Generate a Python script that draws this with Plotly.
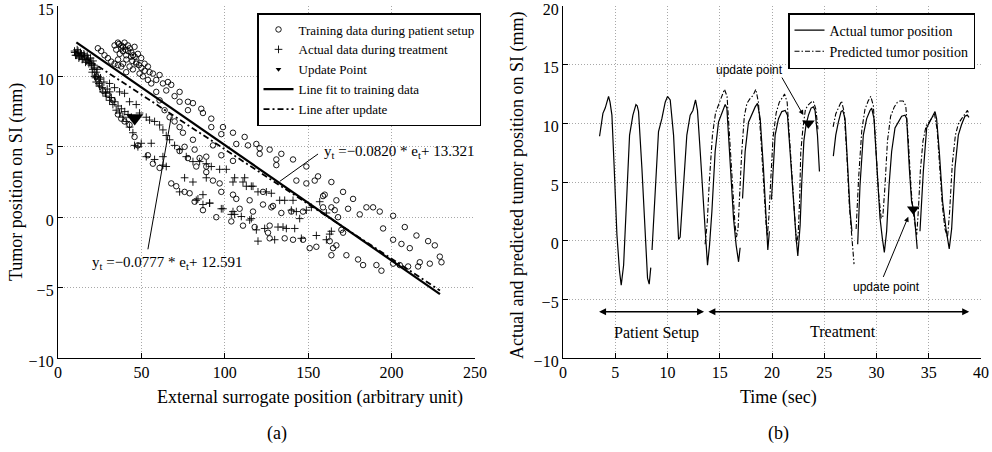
import plotly.graph_objects as go

# ---------------- (a) scatter data ----------------
train_x = [23.9, 25.9, 27.9, 29.9, 31.9, 33.9, 35.9, 37.9, 40.9,
           33.9, 35.9, 37.9, 39.9, 41.9, 45.9, 34.9, 38.9, 40.9, 43.9, 47.9, 49.9, 51.9, 53.9, 54.9, 56.9,
           60.9, 58.9, 62.9, 65.9, 67.9, 64.9, 69.9, 72.9, 72.9, 77.9, 80.9, 77.9, 85.9, 86.9, 91.9, 91.9, 98.9,
           46.9, 42.9, 44.9, 48.9, 50.9, 53.9, 55.9, 58.9, 60.9, 63.9, 66.9, 69.9, 72.9, 74.9, 75.9, 72.9,
           77.9, 81.9, 82.9, 80.9, 84.9,
           22.9, 24.9, 26.9, 29.9, 32.9,
           35.9, 37.9, 39.9, 42.9, 45.9, 47.9, 53.9, 56.9, 60.9, 67.9, 70.9, 75.9, 78.9, 81.9,
           36.5, 38.0, 39.0, 40.5, 42.0, 43.0, 44.0, 45.0, 46.0, 37.0, 41.0, 44.5, 47.0, 48.5, 50.0, 52.0,
           36.0, 39.0,
           97.9, 104.9, 111.9, 92.9, 106.9, 113.9, 118.9, 120.9, 120.9, 126.9, 133.9, 130.9, 130.9, 140.9,
           104.9, 97.9, 88.9, 88.9, 88.9, 92.9, 96.9, 97.9, 104.9, 106.9, 114.9, 122.9, 128.9, 133.9, 139.9,
           146.9, 148.9, 142.9, 148.9, 153.9, 155.9, 163.9, 170.9, 176.9, 184.9, 192.9, 200.9, 207.9, 214.9,
           221.9, 225.9, 228.9, 229.9, 222.9, 216.9, 215.9, 209.9, 204.9, 200.9, 193.9, 190.9, 182.9, 179.9,
           172.9, 163.9, 154.9, 150.9, 146.9, 140.9, 135.9, 126.9, 125.9, 126.9, 117.9, 110.9, 103.9, 94.9,
           86.9, 108.9, 116.9, 122.9, 127.9, 158.9, 163.9, 165.9, 167.9, 169.9, 170.9, 166.9, 164.9, 162.9,
           158.9, 159.9, 166.9, 173.9, 180.9, 188.9, 194.9, 200.9, 205.9, 210.9]
train_y = [12.0, 11.8, 11.5, 11.3, 11.05, 10.9, 10.8, 10.7, 10.3,
           12.2, 12.4, 12.2, 12.4, 12.2, 12.1, 11.9, 11.8, 11.5, 11.4, 11.6, 11.3, 10.9, 10.7, 10.3, 10.2,
           10.1, 9.75, 9.5, 9.6, 9.4, 9.0, 8.6, 8.9, 8.2, 8.2, 8.1, 7.6, 7.7, 7.4, 7.0, 6.4, 6.4,
           10.9, 10.7, 10.5, 10.2, 10.0, 9.75, 9.5, 8.9, 8.3, 7.6, 7.1, 6.8, 6.4, 6.0, 5.0, 4.7,
           4.2, 4.8, 3.6, 5.5, 4.2,
           10.0, 9.5, 9.0, 8.7, 8.3,
           7.3, 7.0, 6.8, 6.55, 5.7, 5.1, 4.4, 3.8, 3.5, 2.4, 2.2, 1.8, 1.7, 1.1,
           12.3, 12.0, 12.1, 11.9, 11.8, 12.0, 11.7, 11.5, 11.4, 11.6, 11.2, 11.1, 11.0, 10.8, 10.6, 10.4,
           11.2, 10.9,
           5.9, 6.0, 5.7, 5.1, 5.2, 5.1, 5.2, 4.9, 4.5, 4.8, 4.5, 4.1, 3.7, 4.1,
           4.0, 4.4, 4.3, 3.6, 3.2, 2.6, 2.4, 1.8, 1.6, 1.3, 1.2, 0.9, 0.8, 0.3, 0.4,
           0.4, 3.6, 2.6, 2.4, 2.6, 2.9, 2.5, 1.8, 1.3, 0.7, 0.4, 0.1, -0.7, -1.3,
           -1.7, -2.0, -2.8, -3.2, -3.3, -3.2, -3.5, -3.5, -3.4, -3.3, -3.8, -3.4, -3.4, -3.0,
           -2.7, -2.7, -2.1, -2.2, -1.6, -1.6, -1.5, -1.5, -1.1, -0.6, -0.7, -0.6, -0.3, 0.0,
           0.5, 0.6, 0.4, 1.8, 0.7, 0.7, 0.7, 0.5, 0.0, -0.9, -1.1, -2.0, -2.2, -1.7,
           1.5, 1.6, 1.2, 0.6, 0.2, 0.7, -0.8, -1.6, -1.9, -2.2]

treat_x = [10.0, 11.0, 12.0, 13.0, 14.0, 15.0, 16.0, 17.0, 18.0, 19.0, 20.0, 21.0, 22.0, 23.0, 24.0, 25.0,
           9.9, 11.9, 13.9, 15.9, 17.9, 19.9, 20.9, 21.9, 22.9, 24.9, 26.9, 28.9, 30.9, 32.9, 34.9, 36.9,
           38.9, 40.9, 42.9, 44.9, 45.9, 47.9, 30.9, 33.9, 36.9, 39.9, 42.9, 46.9, 48.9, 52.9, 54.9, 57.9,
           60.9, 62.9, 64.9, 66.9, 69.9, 72.9, 76.9, 80.9, 84.9, 88.9, 91.9, 96.9, 100.9, 55.9, 49.9, 52.9,
           57.9, 62.9, 62.9, 64.9, 75.9, 80.9, 72.9, 82.9, 86.9, 90.9, 98.9, 104.9, 105.9, 109.9, 115.9,
           118.9, 104.9, 111.9, 112.9, 116.9,
           10.5, 11.5, 12.5, 13.5, 14.5, 15.5, 16.5, 17.5, 18.5, 19.5, 20.5, 21.5, 22.5, 23.5, 24.5, 25.5,
           26.5, 27.5, 28.5, 29.5, 31.0, 32.0, 34.0, 36.0, 38.0, 40.0, 42.0, 44.0,
           88.9, 90.9, 97.9, 103.9, 105.9, 110.9, 115.9, 119.9, 124.9, 127.9, 132.9, 135.9, 140.9, 139.9,
           142.9, 144.9, 148.9, 151.9, 156.9, 160.9, 114.9, 119.9, 129.9, 131.9, 136.9, 141.9, 145.9,
           154.9, 160.9, 162.9, 163.9, 83.9, 86.9, 123.9, 134.9]
treat_y = [11.7, 11.5, 11.8, 11.4, 11.6, 11.3, 11.5, 11.1, 11.3, 11.0, 10.8, 11.1, 10.6, 10.3, 10.0, 9.8,
           11.8, 11.6, 11.5, 11.4, 11.2, 10.9, 10.5, 10.0, 9.6, 9.3, 8.9, 8.6, 8.3, 8.0, 7.6, 7.4,
           7.1, 6.8, 6.4, 6.0, 5.1, 5.0, 9.5, 9.2, 8.9, 8.8, 8.2, 8.0, 7.4, 7.1, 6.9, 6.8,
           6.55, 6.2, 5.8, 5.5, 5.1, 4.8, 4.3, 3.95, 3.95, 3.8, 3.6, 3.4, 3.4, 5.25, 5.25, 4.3,
           4.1, 4.3, 3.7, 3.6, 2.8, 2.5, 1.8, 1.2, 1.6, 1.0, 0.6, 0.4, 0.2, 0.05, -0.1,
           -0.9, 2.5, 2.8, 2.2, 2.2,
           11.5, 11.9, 11.3, 11.7, 11.2, 11.6, 11.0, 11.5, 10.9, 11.3, 10.3, 10.8, 9.9, 10.5, 9.5, 9.9,
           9.2, 9.6, 8.8, 9.1, 8.9, 8.5, 8.2, 7.9, 7.7, 7.5, 7.3, 7.1,
           2.8, 1.0, 0.6, 0.2, 2.8, 2.5, 2.2, 1.8, 1.8, 1.7, 1.2, 1.2, 1.2, 0.5,
           0.4, -0.1, 0.5, 0.7, 1.1, 0.3, -0.2, -1.7, -1.6, -0.7, -0.8, -0.8, -1.5,
           -1.3, -1.6, -1.2, -1.0, 1.3, 0.9, -0.8, -0.7]

update_a_x = [46.0]
update_a_y = [7.05]

fit_x = [11, 229]
fit_y = [12.419, -5.457]        # y = -0.0820 e + 13.321
upd_x = [10, 229]
upd_y = [11.814, -5.202]        # y = -0.0777 e + 12.591

# ---------------- (b) time series ----------------
act_t = [3.5, 3.82, 4.04, 4.2, 4.36, 4.5, 4.68, 4.9, 5.16, 5.41, 5.57, 5.8, 6.12, 6.37, 6.69, 6.98, 7.1,
         7.23, 7.55, 7.87, 8.09, 8.25, 8.4, None, 8.52, 8.82, 9.14, 9.46, 9.78, 10.0, 10.26, 10.58,
         10.83, 11.06, 11.21, 11.53, 11.85, 12.17, 12.43, 12.68, 12.87, 13.13, 13.38, 13.6, 13.83,
         14.02, 14.25, 14.56, 14.88, 15.2, 15.52, 15.68, 16.0, 16.32, 16.57, 16.8, 16.95, None,
         17.18, 17.43, 17.75, 18.07, 18.39, 18.61, 18.87, 19.18, 19.44, 19.6, 19.75, None, 19.95,
         20.3, 20.62, 20.94, 21.26, 21.48, 21.73, 22.05, 22.31, 22.47, 22.69, 22.85, 23.05, 23.26,
         23.49, 23.74, 23.96, 24.12, 24.35, 24.54, None, 25.87, 26.1, 26.35, 26.61, 26.77, 26.99,
         27.25, 27.47, 27.65, None, 28.2, 28.42, 28.74, 29.06, 29.38, 29.54, 29.76, 30.02, 30.34,
         30.56, 30.75, 30.97, 31.2, 31.45, 31.77, 32.09, 32.41, 32.73, 32.89, 33.14, 33.36, 33.59,
         33.78, 33.9, None, 34.16, 34.48, 34.8, 35.12, 35.37, 35.6, 35.75, 36.01, 36.33, 36.65,
         36.96, 37.19, 37.51, 37.83, 38.14, 38.46, 38.69, 38.85]
act_v = [8.9, 10.85, 11.3, 11.8, 12.3, 11.8, 10.7, 6.2, 0.5, -2.6, -3.8, -2.1, 4.7, 9.0, 10.7, 11.6, 11.5,
         11.0, 6.2, 0.5, -3.2, -3.7, -2.3, None, -0.8, 4.7, 9.3, 10.4, 11.8, 12.3, 12.0, 9.0,
         4.7, 0.1, 0.3, 4.7, 9.0, 10.7, 11.1, 12.0, 11.1, 7.6, 3.5, 1.0, -2.1,
         -0.4, 2.5, 7.6, 10.1, 10.8, 11.6, 11.3, 6.2, 1.9, -0.4, -1.8, -0.6, None,
         3.6, 7.6, 10.1, 10.8, 11.4, 11.7, 10.4, 6.2, 1.9, -0.8, 0.8, None, 3.5,
         9.0, 10.4, 11.0, 11.1, 10.7, 7.6, 3.3, 0.2, -1.3, 1.3, 5.0, 8.5, 9.9,
         10.7, 11.3, 11.4, 11.1, 9.0, 5.9, None, 7.2, 9.0, 10.1, 11.0, 11.1, 10.4,
         6.2, 2.5, 0.8, None, -0.3, 4.7, 9.0, 10.4, 11.1, 11.3, 10.4, 6.2, 1.9,
         0.2, -1.0, 0.8, 4.7, 7.6, 9.6, 10.1, 10.6, 10.7, 10.4, 6.2, 3.3, 2.5,
         0.8, -0.7, None, 0.8, 5.9, 9.6, 10.1, 10.6, 11.0, 10.4, 7.6, 3.3, 1.0,
         -0.7, 1.0, 6.2, 9.0, 9.9, 10.6, 10.7, 10.5]

pred_t = [13.6, 13.8, 14.0, 14.3, 14.6, 14.9, 15.2, 15.45, 15.7, 15.95, 16.2, 16.45, 16.6, 16.75, 16.9,
          17.1, 17.35, 17.6, 17.9, 18.2, 18.45, 18.7, 18.95, 19.2, 19.45, 19.55, 19.7, 19.9, 20.1,
          20.4, 20.7, 21.0, 21.2, 21.45, 21.7, 21.95, 22.2, 22.35, 22.5, 22.65, 22.75, 22.95, 23.2,
          23.5, 23.75, 23.95, 24.2, 24.4, None, 25.85, 26.1, 26.4, 26.65, 26.9, 27.15, 27.4, 27.65,
          27.85, None, 28.05, 28.3, 28.6, 28.9, 29.2, 29.45, 29.7, 29.95, 30.2, 30.45, 30.6, 30.8,
          31.05, 31.35, 31.7, 32.0, 32.25, 32.55, 32.8, 33.05, 33.3, 33.5, 33.7, 33.85, 34.0, 34.2,
          34.45, 34.75, 35.1, 35.35, 35.55, 35.8, 36.05, 36.3, 36.55, 36.8, 37.0, 37.25, 37.55,
          37.85, 38.15, 38.45, 38.7, 38.85]
pred_v = [-0.3, 1.5, 5.0, 9.0, 10.9, 11.6, 12.2, 12.9, 12.3, 8.5, 4.5, 1.5, 0.3, 1.0, 3.8,
          7.5, 10.6, 11.7, 12.1, 12.4, 12.9, 11.8, 8.5, 4.5, 1.2, 0.4, 2.0, 5.5, 8.8,
          10.9, 11.8, 12.2, 12.5, 11.8, 8.5, 4.5, 1.0, -0.3, 0.5, 3.6, 7.5, 9.5, 11.2,
          11.6, 11.8, 11.9, 11.2, 9.5, None, 9.7, 10.8, 11.4, 11.9, 11.0, 7.5, 3.0, 0.0,
          -2.0, None, 1.0, 5.5, 9.5, 11.2, 11.9, 12.3, 11.5, 8.0, 4.0, 1.9, 2.0, 4.5,
          8.5, 10.6, 11.4, 11.8, 11.9, 11.9, 11.5, 8.5, 4.5, 2.5, 1.5, 0.5, 2.5, 6.0,
          8.5, 9.8, 10.2, 10.5, 10.8, 9.5, 6.5, 3.0, 1.0, 0.3, 2.5, 6.5, 9.0,
          10.0, 10.4, 10.8, 11.1, 10.8]

update_b_t = [23.48, 33.52]
update_b_v = [10.0, 2.67]

SERIF = "Liberation Serif"
SANS = "Liberation Sans"

fig = go.Figure()

# (a)
fig.add_trace(go.Scatter(x=train_x, y=train_y, mode="markers", name="Training data during patient setup",
                         marker=dict(symbol="circle-open", size=5.5, color="black", line=dict(width=0.9)),
                         xaxis="x", yaxis="y", legend="legend"))
fig.add_trace(go.Scatter(x=treat_x, y=treat_y, mode="markers", name="Actual data during treatment",
                         marker=dict(symbol="cross-thin-open", size=5.5, color="black", line=dict(width=0.9)),
                         xaxis="x", yaxis="y", legend="legend"))
fig.add_trace(go.Scatter(x=update_a_x, y=update_a_y, mode="markers", showlegend=False,
                         marker=dict(symbol="triangle-down", size=15, color="black"),
                         xaxis="x", yaxis="y"))
fig.add_trace(go.Scatter(x=[None], y=[None], mode="markers", name="Update Point",
                         marker=dict(symbol="triangle-down", size=5, color="black"),
                         xaxis="x", yaxis="y", legend="legend"))
fig.add_trace(go.Scatter(x=fit_x, y=fit_y, mode="lines", name="Line fit to training data",
                         line=dict(color="black", width=2.2), xaxis="x", yaxis="y", legend="legend"))
fig.add_trace(go.Scatter(x=upd_x, y=upd_y, mode="lines", name="Line after update",
                         line=dict(color="black", width=1.8, dash="6px,3px,2px,3px"), xaxis="x", yaxis="y",
                         legend="legend"))

# (b)
fig.add_trace(go.Scatter(x=act_t, y=act_v, mode="lines", name="Actual tumor position",
                         line=dict(color="black", width=1.2), connectgaps=False,
                         xaxis="x2", yaxis="y2", legend="legend2"))
fig.add_trace(go.Scatter(x=pred_t, y=pred_v, mode="lines", name="Predicted tumor position",
                         line=dict(color="black", width=1.1, dash="5px,2px,1.5px,2px"), connectgaps=False,
                         xaxis="x2", yaxis="y2", legend="legend2"))
fig.add_trace(go.Scatter(x=update_b_t, y=update_b_v, mode="markers", showlegend=False,
                         marker=dict(symbol="triangle-down", size=11, color="black"),
                         xaxis="x2", yaxis="y2"))

axis_common = dict(showline=True, linecolor="black", linewidth=1.3, mirror=False,
                   ticks="inside", ticklen=5, tickcolor="black", tickwidth=1,
                   showgrid=True, gridcolor="#a8a8a8", gridwidth=1, griddash="1px,2px",
                   zeroline=False, ticklabeloverflow="allow", automargin=False,
                   tickfont=dict(family=SERIF, size=16, color="black"))

W = 992 - 58 - 11
H = 452 - 6 - 94
fig.update_layout(
    width=992, height=452,
    margin=dict(l=58, r=11, t=6, b=94, autoexpand=False),
    paper_bgcolor="white", plot_bgcolor="white",
    font=dict(family=SERIF, color="black"),
    xaxis=dict(domain=[0, (475 - 58) / W], range=[0, 250], dtick=50, anchor="y", **axis_common),
    yaxis=dict(domain=[0, 1], range=[-10, 15], dtick=5, anchor="x", ticklabelshift=3, **axis_common),
    xaxis2=dict(domain=[(563 - 58) / W, 1], range=[0, 40], dtick=5, anchor="y2", **axis_common),
    yaxis2=dict(domain=[0, 1], range=[-10, 20], dtick=5, anchor="x2", ticklabelshift=3, **axis_common),
    legend=dict(x=(257 - 58) / W, y=(358 - 13) / H, xanchor="left", yanchor="top",
                bgcolor="white", bordercolor="black", borderwidth=1.5,
                font=dict(family=SERIF, size=13, color="black"), itemwidth=30, tracegroupgap=0),
    legend2=dict(x=(788 - 58) / W, y=(358 - 13) / H, xanchor="left", yanchor="top",
                 bgcolor="white", bordercolor="black", borderwidth=1.5,
                 font=dict(family=SERIF, size=14, color="black"), itemwidth=30),
)


def pap(px, py, text, size=18, angle=0):
    return dict(xref="paper", yref="paper", x=(px - 58) / W, y=(358 - py) / H,
                xanchor="center", yanchor="middle", text=text, textangle=angle, showarrow=False,
                font=dict(family=SERIF, size=size))


ann = [
    pap(310, 398, "External surrogate position (arbitrary unit)"),
    pap(778, 398, "Time (sec)"),
    pap(277, 433, "(a)"),
    pap(778, 433, "(b)"),
    pap(16, 182, "Tumor position on SI (mm)", angle=-90),
    pap(517, 186, "Actual and predicted tumor position on SI (mm)", angle=-90),
]

# equation labels in (a) with their pointer lines
ann.append(dict(xref="x", yref="y", x=158.5, y=4.65, xanchor="left", yanchor="middle",
                text="y<sub>t</sub> =\u22120.0820 * e<sub>t</sub>+ 13.321", showarrow=False,
                font=dict(family=SERIF, size=15)))
ann.append(dict(xref="x", yref="y", x=18.9, y=-3.25, xanchor="left", yanchor="middle",
                text="y<sub>t</sub> =\u22120.0777 * e<sub>t</sub>+ 12.591", showarrow=False,
                font=dict(family=SERIF, size=15)))
pointer_lines = [
    dict(type="line", xref="x", yref="y", x0=155.9, y0=4.49, x1=133.0, y1=2.55,
         line=dict(color="black", width=1)),
    dict(type="line", xref="x", yref="y", x0=53.9, y0=-2.28, x1=67.9, y1=7.14,
         line=dict(color="black", width=1)),
]

# update point labels in (b)
ann.append(dict(xref="x2", yref="y2", x=17.81, y=14.54, xanchor="center", yanchor="middle",
                text="update point", showarrow=False, font=dict(family=SANS, size=12)))
ann.append(dict(xref="x2", yref="y2", x=23.0, y=10.7, axref="x2", ayref="y2", ax=20.87, ay=14.03,
                text="", showarrow=True, arrowhead=2, arrowsize=1, arrowwidth=1, arrowcolor="black"))
ann.append(dict(xref="x2", yref="y2", x=30.97, y=-3.93, xanchor="center", yanchor="middle",
                text="update point", showarrow=False, font=dict(family=SANS, size=12)))
ann.append(dict(xref="x2", yref="y2", x=33.04, y=2.04, axref="x2", ayref="y2", ax=30.59, ay=-3.22,
                text="", showarrow=True, arrowhead=2, arrowsize=1, arrowwidth=1, arrowcolor="black"))

# phase arrows
ann.append(dict(xref="x2", yref="y2", x=13.5, y=-6.06, axref="x2", ayref="y2", ax=3.31, ay=-6.06,
                text="", showarrow=True, arrowhead=2, startarrowhead=2, arrowside="end+start",
                arrowsize=1, arrowwidth=1.4, arrowcolor="black"))
ann.append(dict(xref="x2", yref="y2", x=38.87, y=-6.06, axref="x2", ayref="y2", ax=13.77, ay=-6.06,
                text="", showarrow=True, arrowhead=2, startarrowhead=2, arrowside="end+start",
                arrowsize=1, arrowwidth=1.4, arrowcolor="black"))
ann.append(dict(xref="x2", yref="y2", x=8.98, y=-7.9, xanchor="center", yanchor="middle",
                text="Patient Setup", showarrow=False, font=dict(family=SERIF, size=16)))
ann.append(dict(xref="x2", yref="y2", x=26.83, y=-7.77, xanchor="center", yanchor="middle",
                text="Treatment", showarrow=False, font=dict(family=SERIF, size=16)))

fig.update_layout(annotations=ann, shapes=pointer_lines)
fig.write_html("out.html", config={"displayModeBar": False},
               post_script="document.body.style.margin='0';document.body.style.overflow='hidden';")
